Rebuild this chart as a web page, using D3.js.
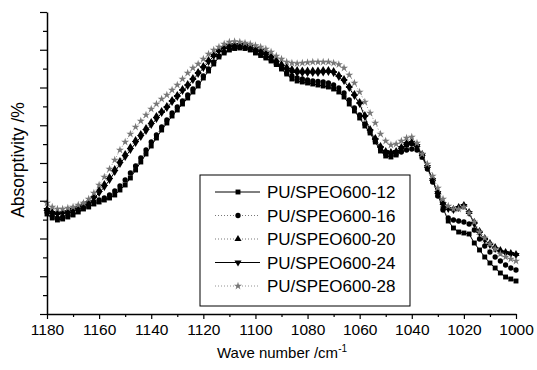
<!DOCTYPE html>
<html><head><meta charset="utf-8">
<script src="https://cdn.jsdelivr.net/npm/d3@7/dist/d3.min.js"></script>
<style>body{margin:0;background:#fff;} svg{display:block;font-family:"Liberation Sans",Arial,sans-serif;}</style>
</head><body><svg id="c" width="537" height="370"></svg>
<script>
// x grid: wave numbers, 1180 -> 1000 cm-1, every 2 cm-1
const waveStart = 1180, waveEnd = 1000, waveStep = 2;
const wavenumbers = d3.range(waveStart, waveEnd - 1, -waveStep);

const seriesNames = ["PU/SPEO600-12", "PU/SPEO600-16", "PU/SPEO600-20", "PU/SPEO600-24", "PU/SPEO600-28"];

const s12 = [100,96,94,95,97,99,102,105,107,110,
112,114,116,119,124,129,136,144,152,160,
168,176,184,191,198,204,210,216,222,228,
236,243,250,257,261,264,265.5,266,265.5,264,
261,258.5,256,253,249.5,245,240,235,233,232,
231,230,229,228,227,225,222,217,210,203,
196,188,181,172,163,158,157,159,164,169,
170.5,167,157,146,134,119,106,93,86,82,
81,80,71,64,57,51,46,41,37,35,33];

const s16 = [102,98,96,97,99,101,104,107,109,112,
114,116,119,123,128,134,141,148,156,164,
172,179,187,194,201,207,213,219,225,231,
238,245,252,258,262,265,266.5,267,266.5,265,
262.5,260,257,254,250,246,241,238,236,235,
234,233,232.5,232,231,229,226,221,214,206,
199,190,182,173,165,160,159,160,162,164,
165,164,157,145,132,118,104,96,94,93,
92,90,84,75,68,62,57,53,49,46,44];

const s20 = [105,102,101,102,103,105,107,110,113,118,
124,130,137,145,153,160,167,174,180,186,
192,198,203,208,214,219,225,230,236,242,
248,254,259,264,267,269,269.5,269.5,269,267.5,
266,264,261,258,254,250,247,245,244,243.5,
243.5,243.5,243.5,244,244,243,239,235,228,220,
212,199,185,176,168,163,162,163,167,171,
172,169,160,148,135,122,111,106,105,107,
109,102,92,83,76,71,67,64,62,61,60];

const s24 = [104,101,100,101,102,104,106,108,111,116,
121,127,134,142,150,157,164,171,177,183,
189,195,201,206,212,217,223,228,234,240,
246,252,258,263,266,268,269,269,268.5,267,
265,263,260,256,251,247,244,242,241,241,
241,241,241,241.5,242,241,237,233,226,218,
210,197,183,174,166,162,161,162,166,170,
171,168,159,147,134,121,110,105,104,106,
108,101,90,81,74,69,65,62,61,60,59];

const s28 = [111,107,105,105,106,107,109,111,115,121,
129,137,145,154,164,172,180,187,193,199,
205,210,215,219,224,229,235,241,246,250,
255,260,264,267,270,272,272.5,272,271,270,
268.5,267,265,262,258,255,252,251,250.5,251,
251.5,252,252,252,252,251,249.5,246,239,231,
222,212,201,191,180,173,169,170,173,176,
177,171,160,150,138,126,115,108,105,105,
107,101,92,82,76,70,65,60,57,55,53];

const seriesValues = [s12, s16, s20, s24, s28];

const xTickValues = [1180,1160,1140,1120,1100,1080,1060,1040,1020,1000];
const xMinorTickValues = [1170,1150,1130,1110,1090,1070,1050,1030,1010];
const yMax = 302, yMajorCount = 8;

// styles
const styles = [
  {sym: d3.symbolSquare, size: 24, rot: 0, fill: "#000", dash: null, lineColor: "#000", lw: 1},
  {sym: d3.symbolCircle, size: 22, rot: 0, fill: "#000", dash: "1,2", lineColor: "#555", lw: 0.8},
  {sym: d3.symbolTriangle, size: 22, rot: 0, fill: "#000", dash: "1,2", lineColor: "#555", lw: 0.8},
  {sym: d3.symbolTriangle, size: 22, rot: 180, fill: "#000", dash: null, lineColor: "#000", lw: 1},
  {sym: d3.symbolStar, size: 20, rot: 0, fill: "#777", dash: "1,2", lineColor: "#777", lw: 0.8}
];

const svg = d3.select("#c");
const x = d3.scaleLinear().domain([waveStart, waveEnd]).range([47, 516]);
const y = d3.scaleLinear().domain([0, yMax]).range([314, 12]);

const yMajor = d3.range(0, yMajorCount + 1).map(i => i * yMax / yMajorCount);
const yMinor = d3.range(0, yMajorCount).map(i => (i + 0.5) * yMax / yMajorCount);

// series
seriesValues.forEach((vals, si) => {
  const st = styles[si];
  const pts = vals.map((v, i) => [wavenumbers[i], v]);
  const g = svg.append("g");
  g.append("path")
    .datum(pts)
    .attr("fill", "none")
    .attr("stroke", st.lineColor)
    .attr("stroke-width", st.lw)
    .attr("stroke-dasharray", st.dash)
    .attr("d", d3.line().x(d => x(d[0])).y(d => y(d[1])));
  g.selectAll("path.m").data(pts).join("path")
    .attr("class", "m")
    .attr("d", d3.symbol().type(st.sym).size(st.size))
    .attr("transform", d => `translate(${x(d[0])},${y(d[1])}) rotate(${st.rot})`)
    .attr("fill", st.fill);
});

// axes
const xAxis = svg.append("g").attr("transform", "translate(0,314)")
  .call(d3.axisBottom(x).tickValues(xTickValues).tickSize(5).tickPadding(5).tickFormat(d3.format("d")).tickSizeOuter(0));
const xMinor = svg.append("g").attr("transform", "translate(0,314)")
  .call(d3.axisBottom(x).tickValues(xMinorTickValues).tickSize(3).tickFormat(""));
xMinor.select(".domain").remove();
const yAxis = svg.append("g").attr("transform", "translate(47,0)")
  .call(d3.axisLeft(y).tickValues(yMajor).tickSize(7).tickFormat("").tickSizeOuter(0));
const yMinorG = svg.append("g").attr("transform", "translate(47,0)")
  .call(d3.axisLeft(y).tickValues(yMinor).tickSize(4).tickFormat(""));
yMinorG.select(".domain").remove();

svg.selectAll(".domain").attr("stroke", "#000").attr("stroke-width", 1.5);
svg.selectAll(".tick line").attr("stroke", "#000").attr("stroke-width", 1.2);
svg.selectAll(".tick text").attr("font-size", 15.5).attr("font-family", "Liberation Sans, Arial, sans-serif").attr("fill", "#000");

// axis titles
const xt = svg.append("text").attr("x", 282).attr("y", 358).attr("text-anchor", "middle")
  .attr("font-size", 15).attr("fill", "#000");
xt.append("tspan").text("Wave number /cm");
xt.append("tspan").attr("dy", -6).attr("font-size", 10).text("-1");

svg.append("text").attr("transform", "translate(24,160) rotate(-90)")
  .attr("text-anchor", "middle").attr("font-size", 17.5).attr("fill", "#000")
  .text("Absorptivity /%");

// legend
const lg = svg.append("g");
lg.append("rect").attr("x", 200).attr("y", 175).attr("width", 210).attr("height", 131)
  .attr("fill", "#fff").attr("stroke", "#000").attr("stroke-width", 1);
seriesNames.forEach((name, i) => {
  const st = styles[i];
  const cy = 192 + i * 23.5;
  lg.append("line").attr("x1", 215).attr("x2", 260).attr("y1", cy).attr("y2", cy)
    .attr("stroke", st.lineColor).attr("stroke-width", st.lw).attr("stroke-dasharray", st.dash);
  lg.append("path").attr("d", d3.symbol().type(st.sym).size(st.size))
    .attr("transform", `translate(238,${cy}) rotate(${st.rot})`).attr("fill", st.fill);
  lg.append("text").attr("x", 267).attr("y", cy).attr("dy", "0.36em")
    .attr("font-size", 17).attr("fill", "#000").text(name);
});
</script></body></html>
